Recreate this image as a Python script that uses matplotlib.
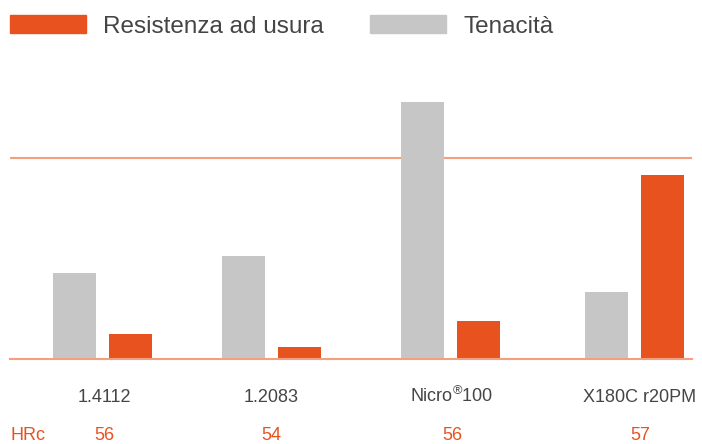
#!/usr/bin/env python3
"""Resistenza ad usura / Tenacità – grouped bars with HRc row."""

import matplotlib
matplotlib.use('Agg')
import matplotlib.pyplot as plt
from matplotlib.patches import Rectangle

plt.rcParams['font.family'] = ['Liberation Sans', 'DejaVu Sans']
plt.rcParams['mathtext.fontset'] = 'custom'
plt.rcParams['mathtext.rm'] = 'Liberation Sans'

# ── Data (reference line = 100) ───────────────────────────────────
categories = ['1.4112', '1.2083', 'Nicro$^{®}$100', 'X180C r20PM']
hrc        = ['56', '54', '56', '57']
tenacita   = [42.8, 51.3, 128.0, 33.4]      # grey
resistenza = [12.5, 6.0, 19.0, 91.7]        # orange
series_names = ['Resistenza ad usura', 'Tenacità']

# ── Layout / style ────────────────────────────────────────────────
W, H = 702, 444
ORANGE = '#E8521E'
GREY   = '#C6C6C6'
LINE   = '#F2A07E'
TEXT   = '#454545'
group_x = [102.5, 271.5, 450.0, 634.5]
label_x = [104, 271, 452, 640]
offset  = 28
bar_w   = 43


def fx(px):
    return px / W


def fy(py):
    return 1 - py / H


fig = plt.figure(figsize=(W / 100, H / 100), dpi=100)
ax = fig.add_axes([fx(10), fy(359), fx(692) - fx(10), fy(90) - fy(359)])
ax.set_xlim(10, 692)
ax.set_ylim(0, 134)
ax.axis('off')

ax.bar([x - offset for x in group_x], tenacita, width=bar_w, color=GREY, zorder=2)
ax.bar([x + offset for x in group_x], resistenza, width=bar_w, color=ORANGE, zorder=2)
ax.axhline(0, color=LINE, lw=1.5, zorder=3, clip_on=False)
ax.axhline(100, color=LINE, lw=1.5, zorder=1)

# legend drawn by hand
for (x0, col), name, tx in zip([(10, ORANGE), (370, GREY)], series_names, [103, 463]):
    fig.patches.append(Rectangle((fx(x0), fy(33)), fx(76), fy(15) - fy(33),
                                 transform=fig.transFigure, color=col))
    fig.text(fx(tx), fy(33), name, fontsize=17.5, color=TEXT, va='baseline')

# category labels and HRc row
for x, cat, h in zip(label_x, categories, hrc):
    fig.text(fx(x), fy(402), cat, fontsize=13, color=TEXT, ha='center', va='baseline')
    fig.text(fx(x), fy(444), h, fontsize=13, color=ORANGE, ha='center', va='bottom')
fig.text(fx(10), fy(444), 'HRc', fontsize=13, color=ORANGE, va='bottom')

fig.savefig('out.png', dpi=100)
